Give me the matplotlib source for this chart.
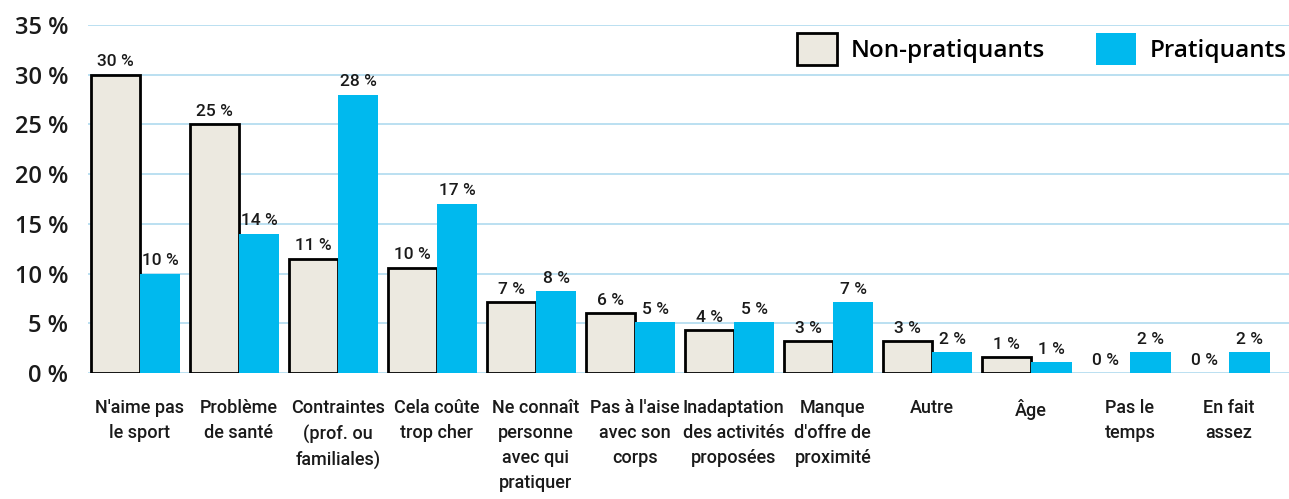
import matplotlib
matplotlib.use("Agg")
import matplotlib.pyplot as plt
import numpy as np
from matplotlib.patches import Patch

categories = ["N'aime pas\nle sport", "Problème\nde santé", "Contraintes\n(prof. ou\nfamiliales)",
              "Cela coûte\ntrop cher", "Ne connaît\npersonne\navec qui\npratiquer",
              "Pas à l'aise\navec son\ncorps", "Inadaptation\ndes activités\nproposées",
              "Manque\nd'offre de\nproximité", "Autre", "Âge", "Pas le\ntemps", "En fait\nassez"]
non_prat = [30, 25, 11.5, 10.6, 7.1, 6.0, 4.3, 3.2, 3.2, 1.6, 0, 0]
prat = [10, 14, 28, 17, 8.2, 5.1, 5.1, 7.1, 2.1, 1.1, 2.1, 2.1]
non_prat_labels = ["30 %", "25 %", "11 %", "10 %", "7 %", "6 %", "4 %", "3 %", "3 %", "1 %", "0 %", "0 %"]
prat_labels = ["10 %", "14 %", "28 %", "17 %", "8 %", "5 %", "5 %", "7 %", "2 %", "1 %", "2 %", "2 %"]
yticks = [0, 5, 10, 15, 20, 25, 30, 35]

C_NON = "#ECE9E0"
C_PRAT = "#00B9EE"
GRID = "#B5DDF0"
NARROW = ["Roboto", "DejaVu Sans"]

fig = plt.figure(figsize=(12.89, 4.99), dpi=100)
ax = fig.add_axes([0.068, 0.2525, 0.932, 0.6975])

x = np.arange(len(categories))
w_non, w_prat = 0.49, 0.41
lw_non = [2.0 if v > 0 else 0 for v in non_prat]
ax.bar(x, non_prat, width=-w_non, align="edge", color=C_NON, edgecolor="black",
       linewidth=lw_non, zorder=3)
ax.bar(x, prat, width=w_prat, align="edge", color=C_PRAT, edgecolor="none", zorder=3)

lab_font = dict(family=NARROW, fontsize=12.5, ha="center", va="bottom", color="#1a1a1a",
                fontweight="medium")
for xi, v, t in zip(x, non_prat, non_prat_labels):
    ax.text(xi - w_non / 2, v + 0.55, t, **lab_font, zorder=4)
for xi, v, t in zip(x, prat, prat_labels):
    ax.text(xi + w_prat / 2, v + 0.55, t, **lab_font, zorder=4)

ax.set_ylim(0, 35)
ax.set_xlim(-0.525, 11.606)
ax.set_yticks(yticks)
ax.set_yticklabels([f"{t} %" for t in yticks], family=["Open Sans", "DejaVu Sans"],
                   fontsize=17, fontweight="semibold", color="#1a1a1a")
ax.set_xticks(x)
ax.set_xticklabels(categories, family=NARROW, fontsize=13, linespacing=1.5,
                   color="#1a1a1a", va="top", fontweight="medium")
ax.tick_params(axis="y", length=0, pad=14)
ax.tick_params(axis="x", length=0, pad=19)
ax.yaxis.grid(True, color=GRID, linewidth=1.3, zorder=0)
ax.set_axisbelow(True)
for s in ax.spines.values():
    s.set_visible(False)

handles = [Patch(facecolor=C_NON, edgecolor="black", linewidth=2, label="Non-pratiquants"),
           Patch(facecolor=C_PRAT, edgecolor="none", label="Pratiquants")]
leg = fig.legend(handles=handles, ncol=2, loc="center right", bbox_to_anchor=(1.015, 0.902),
                 frameon=False, handlelength=1.65, handleheight=1.6, columnspacing=2.1,
                 handletextpad=0.55, prop=dict(family=["Open Sans", "DejaVu Sans"], size=17.5,
                                               weight="semibold"))

fig.savefig("out.png", dpi=100)
